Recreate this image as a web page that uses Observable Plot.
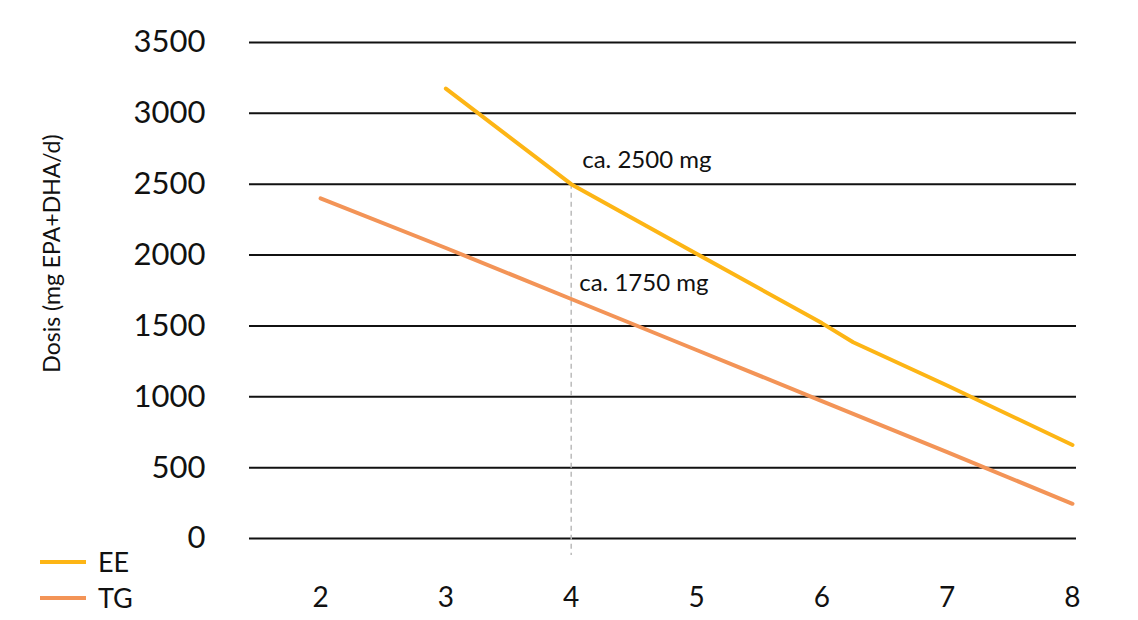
<!DOCTYPE html>
<html>
<head>
<meta charset="utf-8">
<script src="https://cdn.jsdelivr.net/npm/d3@7"></script>
<script src="https://cdn.jsdelivr.net/npm/@observablehq/plot@0.6"></script>
<style>
  body { margin: 0; background: #fff; }
  #wrap { position: relative; width: 1138px; height: 620px; font-family: Lato, "Open Sans", sans-serif; }
  .leg { position: absolute; left: 40px; display: flex; align-items: center; font-size: 27px; color: #111; }
  .leg span.sw { display: inline-block; width: 46px; height: 4px; margin-right: 12px; }
</style>
</head>
<body>
<div id="wrap"></div>
<script>
// Data
const seriesNames = ["EE", "TG"];
const seriesColors = ["#FDB515", "#F39457"];
const eeX = [3, 4, 5, 6, 6.25, 7, 8];
const eeY = [3175, 2500, 2010, 1520, 1385, 1080, 660];
const tgX = [2, 3, 4, 5, 6, 7, 8];
const tgY = [2400, 2050, 1690, 1330, 970, 610, 245];
const xTicks = [2, 3, 4, 5, 6, 7, 8];
const yTicks = [0, 500, 1000, 1500, 2000, 2500, 3000, 3500];
const markerX = [4];
const annotX = [4, 4];
const annotY = [2500, 1750];
const annotText = ["ca. 2500 mg", "ca. 1750 mg"];
const yLabel = "Dosis (mg EPA+DHA/d)";

const ee = eeX.map((x, i) => ({x, y: eeY[i]}));
const tg = tgX.map((x, i) => ({x, y: tgY[i]}));
const annots = annotX.map((x, i) => ({x, y: annotY[i], t: annotText[i]}));

const chart = Plot.plot({
  width: 1138,
  height: 620,
  marginLeft: 249,
  marginRight: 62,
  marginTop: 42,
  marginBottom: 82,
  style: {fontFamily: "Lato, 'Open Sans', sans-serif", color: "#111", background: "#fff"},
  x: {domain: [1.433, 8.032]},
  y: {domain: [0, 3500]},
  marks: [
    Plot.ruleY(yTicks, {stroke: "#111", strokeWidth: 2}),
    Plot.ruleX(markerX, {y1: 2500, y2: -120, stroke: "#bbb", strokeWidth: 1.5, strokeDasharray: "5,4"}),
    Plot.line(tg, {x: "x", y: "y", stroke: seriesColors[1], strokeWidth: 4}),
    Plot.line(ee, {x: "x", y: "y", stroke: seriesColors[0], strokeWidth: 4}),
    Plot.text(annots.slice(0, 1), {x: "x", y: "y", text: "t", textAnchor: "start", dx: 11, dy: -24, fontSize: 24, fill: "#111"}),
    Plot.text(annots.slice(1), {x: "x", y: "y", text: "t", textAnchor: "start", dx: 8, dy: -7, fontSize: 24, fill: "#111"}),
    Plot.axisX(xTicks, {tickSize: 0, tickPadding: 49, fontSize: 28, tickFormat: d3.format("d"), label: null}),
    Plot.axisY(yTicks, {tickSize: 0, tickPadding: 44, fontSize: 31, tickFormat: d3.format("d"), label: null}),
    Plot.text([yLabel], {frameAnchor: "left", text: d => d, rotate: -90, textAnchor: "middle", dx: -197, dy: -37, fontSize: 23, fill: "#111"})
  ]
});

const wrap = document.getElementById("wrap");
wrap.appendChild(chart);
seriesNames.forEach((name, i) => {
  const d = document.createElement("div");
  d.className = "leg";
  d.style.top = (i === 0 ? 545 : 581) + "px";
  d.innerHTML = `<span class="sw" style="background:${seriesColors[i]}"></span>${name}`;
  wrap.appendChild(d);
});
</script>
</body>
</html>
